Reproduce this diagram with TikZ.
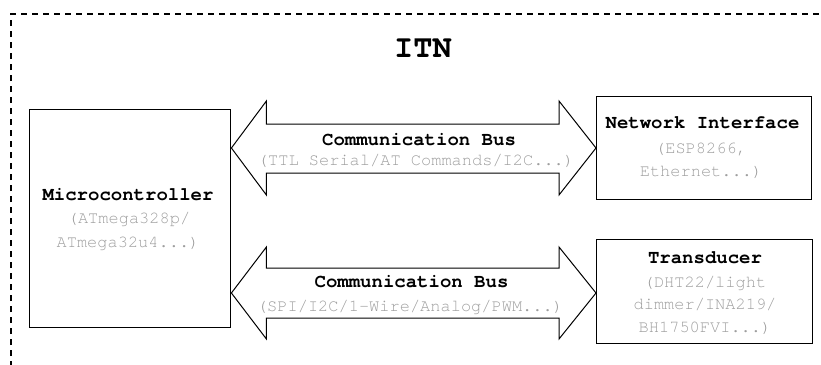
\documentclass[tikz,border=0pt]{standalone}
\usepackage{fontspec}
\setmainfont{TeX Gyre Cursor}
\usetikzlibrary{calc}
\definecolor{subgrey}{HTML}{9E9E9E}
\begin{document}
\begin{tikzpicture}[x=1pt,y=-1pt,
  frame/.style={draw, line width=1.6pt, dash pattern=on 6pt off 5pt},
  box/.style={draw, line width=1.4pt, inner sep=0pt, anchor=north west},
  title/.style={font=\fontsize{32}{38}\selectfont\bfseries, anchor=base},
  lbl/.style={font=\fontsize{19}{23}\selectfont\bfseries, anchor=base},
  sub/.style={font=\fontsize{17}{23}\selectfont, text=subgrey, anchor=base},
  bus/.style={draw, line width=1pt, line join=miter}]
\useasboundingbox (0,0) rectangle (821,364);
% dashed outer frame (extends beyond the right and bottom edges)
\draw[frame] (11,400) -- (11,14) -- (860,14);
% boxes
\node[box, minimum width=201pt, minimum height=218pt] (mcu) at (29,109) {};
\node[box, minimum width=215pt, minimum height=103pt] (net) at (596,96) {};
\node[box, minimum width=216pt, minimum height=104pt] (trd) at (596,239) {};
% title
\node[title] (itn) at (423,57) {ITN};
% box texts
\node[lbl] (mcut) at (128,200) {Microcontroller};
\node[sub] (mcus1) at (129,223) {(ATmega328p/};
\node[sub] (mcus2) at (128,247) {ATmega32u4...)};
\node[lbl] (nett) at (702.5,128) {Network Interface};
\node[sub] (nets1) at (701,153) {(ESP8266,};
\node[sub] (nets2) at (701,176) {Ethernet...)};
\node[lbl] (trdt) at (705,263) {Transducer};
\node[sub] (trds1) at (705,287) {(DHT22/light};
\node[sub] (trds2) at (705,309) {dimmer/INA219/};
\node[sub] (trds3) at (705,332) {BH1750FVI...)};
% top bus arrow
\coordinate (a1l) at (mcu.east |- 0,148);
\coordinate (a1r) at (net.west |- 0,148);
\draw[bus] (a1l) -- ++(35,-47) -- ++(0,23) -- ($(a1r)+(-37,-24)$) -- ++(0,-23)
  -- (a1r) -- ++(-37,47) -- ++(0,-22) -- ($(a1l)+(35,25)$) -- ++(0,22) -- cycle;
\node[lbl] (b1t) at (419,145) {Communication Bus};
\node[sub] (b1s) at (416,165.5) {(TTL Serial/AT Commands/I2C...)};
% bottom bus arrow
\coordinate (a2l) at (mcu.east |- 0,293);
\coordinate (a2r) at (trd.west |- 0,293);
\draw[bus] (a2l) -- ++(35,-46) -- ++(0,21) -- ($(a2r)+(-37,-25)$) -- ++(0,-21)
  -- (a2r) -- ++(-37,46) -- ++(0,-21) -- ($(a2l)+(35,25)$) -- ++(0,21) -- cycle;
\node[lbl] (b2t) at (411.5,287) {Communication Bus};
\node[sub] (b2s) at (410,311.5) {(SPI/I2C/1-Wire/Analog/PWM...)};
\end{tikzpicture}
\end{document}
